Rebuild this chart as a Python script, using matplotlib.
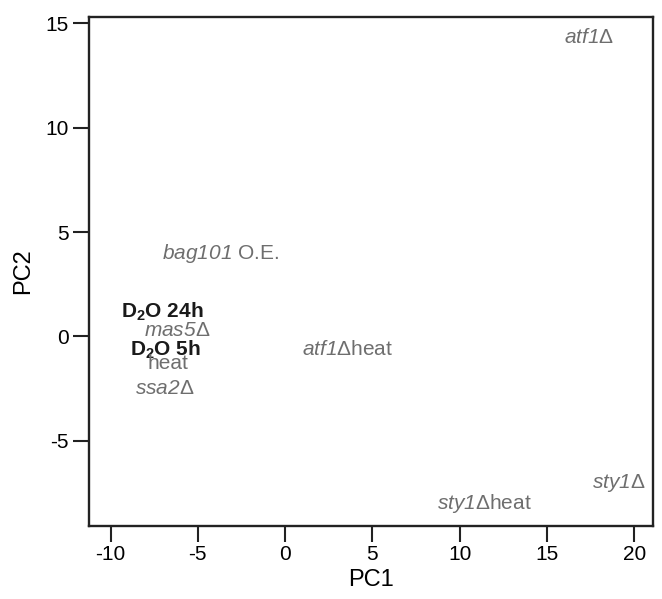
import matplotlib
matplotlib.use("Agg")
import matplotlib.pyplot as plt

plt.rcParams['font.family'] = ['Liberation Sans', 'DejaVu Sans']
plt.rcParams['mathtext.fontset'] = 'custom'
plt.rcParams['mathtext.rm'] = 'Liberation Sans'
plt.rcParams['mathtext.it'] = 'Liberation Sans:italic'
plt.rcParams['mathtext.sf'] = 'Liberation Sans:italic'
plt.rcParams['mathtext.bf'] = 'Liberation Sans:bold'

labels = [r'$\mathsf{atf1}$Δ', r'$\mathsf{bag101}$ O.E.', r'$\mathbf{D_2O\ 24h}$',
          r'$\mathsf{mas5}$Δ', r'$\mathbf{D_2O\ 5h}$', 'heat', r'$\mathsf{ssa2}$Δ',
          r'$\mathsf{atf1}$Δheat', r'$\mathsf{sty1}$Δ', r'$\mathsf{sty1}$Δheat']
pc1 = [17.4, -3.7, -7.05, -6.2, -6.85, -6.7, -6.9, 3.6, 19.1, 11.4]
pc2 = [14.3, 3.95, 1.17, 0.3, -0.65, -1.27, -2.5, -0.6, -7.0, -8.0]
bold = [False, False, True, False, True, False, False, False, False, False]

xticks = [-10, -5, 0, 5, 10, 15, 20]
yticks = [-5, 0, 5, 10, 15]

fig = plt.figure(figsize=(6.62, 5.99), dpi=100)
ax = fig.add_axes([0.1344, 0.1219, 0.852, 0.8497])

for lab, x, y, b in zip(labels, pc1, pc2, bold):
    ax.text(x, y, lab, ha='center', va='center', fontsize=15,
            color='#1a1a1a' if b else '#6e6e6e')

ax.set_xlim(-11.24, 21.08)
ax.set_ylim(-9.07, 15.29)
ax.set_xticks(xticks)
ax.set_yticks(yticks)
ax.set_xticklabels([str(t) for t in xticks])
ax.set_yticklabels([str(t) for t in yticks])
for s in ax.spines.values():
    s.set_linewidth(1.7)
    s.set_color('#222222')
ax.tick_params(axis='both', length=11.5, width=1.5, labelsize=15, color='#222222')
ax.tick_params(axis='x', pad=2)
ax.tick_params(axis='y', pad=3)
ax.set_xlabel('PC1', fontsize=17, labelpad=4)
ax.set_ylabel('PC2', fontsize=17, labelpad=8)

fig.savefig('out.png', dpi=100)
